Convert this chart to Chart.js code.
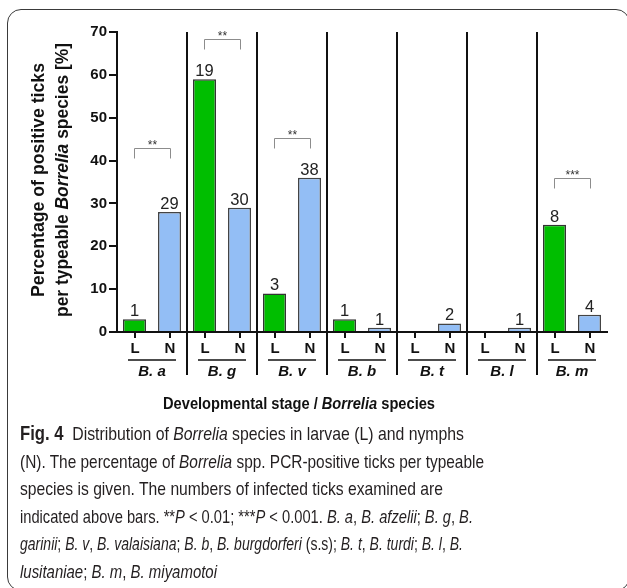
<!DOCTYPE html>
<html><head><meta charset="utf-8">
<script src="https://cdn.jsdelivr.net/npm/chart.js@4/dist/chart.umd.min.js"></script>
<style>
html,body{margin:0;padding:0;background:#fff;}
#wrap{position:relative;width:627px;height:588px;overflow:hidden;background:#fff;}
#frame{position:absolute;left:7px;top:9px;width:623px;height:582px;border:1.2px solid #3a3a3a;border-radius:14px;box-sizing:border-box;}
#cv{position:absolute;left:0;top:0;}
#caption{position:absolute;left:20px;top:420px;font-family:"Liberation Sans Narrow","Liberation Sans",Arial,sans-serif;font-size:18.5px;line-height:27.6px;color:#231f20;}
.ln{white-space:nowrap;transform-origin:0 50%;width:max-content;}
.ln b{font-weight:bold;font-size:19.5px;}
</style></head>
<body>
<div id="wrap">
<div id="frame"></div>
<canvas id="cv" width="627" height="588"></canvas>
<div id="caption">
<div class="ln" data-w="444"><b>Fig. 4</b>&nbsp; Distribution of <i>Borrelia</i> species in larvae (L) and nymphs</div>
<div class="ln" data-w="464">(N). The percentage of <i>Borrelia</i> spp. PCR-positive ticks per typeable</div>
<div class="ln" data-w="423">species is given. The numbers of infected ticks examined are</div>
<div class="ln" data-w="453">indicated above bars. **<i>P</i> &lt; 0.01; ***<i>P</i> &lt; 0.001. <i>B. a</i>, <i>B. afzelii</i>; <i>B. g</i>, <i>B.</i></div>
<div class="ln" data-w="443"><i>garinii</i>; <i>B. v</i>, <i>B. valaisiana</i>; <i>B. b</i>, <i>B. burgdorferi</i> (s.s); <i>B. t</i>, <i>B. turdi</i>; <i>B. l</i>, <i>B.</i></div>
<div class="ln" data-w="197"><i>lusitaniae</i>; <i>B. m</i>, <i>B. miyamotoi</i></div>
</div>
</div>
<script>
// ---- data ----
const species = ['B. a','B. g','B. v','B. b','B. t','B. l','B. m'];
const stages = ['L','N'];
const larvaeValues = [3, 59, 9, 3, 0, 0, 25];
const nymphValues = [28, 29, 36, 1, 2, 1, 4];
const larvaeCounts = ['1','19','3','1','','','8'];
const nymphCounts = ['29','30','38','1','2','1','4'];
const significance = ['**','**','**','','','','***'];
const bracketLevel = [42.9, 68.4, 45.2, null, null, null, 35.9];
const yTicks = [0,10,20,30,40,50,60,70];

// scale caption lines to reference widths
document.querySelectorAll('.ln').forEach(el=>{
  const w = el.getBoundingClientRect().width;
  const t = +el.dataset.w;
  el.style.transform = 'scaleX(' + (t/w) + ')';
});

const FONT = '"Liberation Sans", Arial, Helvetica, sans-serif';
Chart.defaults.font.family = FONT;

function seg(ctx, parts, cx, cy, target){
  ctx.save();
  ctx.textAlign = 'left';
  let total = 0;
  parts.forEach(p=>{ctx.font=p[1]; total += ctx.measureText(p[0]).width;});
  const k = target ? target/total : 1;
  ctx.translate(cx, cy); ctx.scale(k, 1);
  let x = -total/2;
  parts.forEach(p=>{ctx.font=p[1]; ctx.fillText(p[0], x, 0); x += ctx.measureText(p[0]).width;});
  ctx.restore();
}

const annot = {
  id:'annot',
  afterDatasetsDraw(chart){
    const {ctx, chartArea:ca, scales:{x, y}} = chart;
    const mL = chart.getDatasetMeta(0), mN = chart.getDatasetMeta(1);
    ctx.save();
    // group separators
    ctx.strokeStyle = '#111'; ctx.lineWidth = 2;
    for (let i = 0; i < species.length - 1; i++){
      const px = Math.round((x.getPixelForTick(i) + x.getPixelForTick(i+1))/2);
      ctx.beginPath(); ctx.moveTo(px, ca.top); ctx.lineTo(px, ca.bottom + 43); ctx.stroke();
    }
    // stage tick marks, labels, underline
    ctx.fillStyle = '#111';
    ctx.textAlign = 'center'; ctx.textBaseline = 'middle';
    for (let i = 0; i < species.length; i++){
      [mL.data[i], mN.data[i]].forEach((el, k)=>{
        const bx = Math.round(el.x);
        ctx.lineWidth = 2; ctx.strokeStyle = '#111';
        ctx.beginPath(); ctx.moveTo(bx, ca.bottom); ctx.lineTo(bx, ca.bottom + 6); ctx.stroke();
        ctx.font = 'bold 15px ' + FONT;
        ctx.fillText(stages[k], bx, ca.bottom + 17);
      });
      const gx = x.getPixelForTick(i);
      ctx.lineWidth = 1.6;
      ctx.beginPath(); ctx.moveTo(gx - 24, ca.bottom + 28); ctx.lineTo(gx + 24, ca.bottom + 28); ctx.stroke();
    }
    // counts above bars
    ctx.fillStyle = '#222'; ctx.textBaseline = 'alphabetic';
    ctx.font = '16.5px ' + FONT;
    for (let i = 0; i < species.length; i++){
      if (larvaeCounts[i]) ctx.fillText(larvaeCounts[i], mL.data[i].x, mL.data[i].y - 3);
      if (nymphCounts[i]) ctx.fillText(nymphCounts[i], mN.data[i].x, mN.data[i].y - 3);
    }
    // significance brackets
    for (let i = 0; i < species.length; i++){
      if (!significance[i]) continue;
      const x1 = Math.round(mL.data[i].x) - 0.5, x2 = Math.round(mN.data[i].x) + 0.5;
      const yt = Math.round(y.getPixelForValue(bracketLevel[i])) + 0.5;
      ctx.strokeStyle = '#8c8c8c'; ctx.lineWidth = 1;
      ctx.beginPath(); ctx.moveTo(x1, yt + 10); ctx.lineTo(x1, yt); ctx.lineTo(x2, yt); ctx.lineTo(x2, yt + 10); ctx.stroke();
      ctx.fillStyle = '#333'; ctx.font = '12px ' + FONT; ctx.textBaseline = 'middle';
      ctx.fillText(significance[i], (x1 + x2)/2, yt - 3);
    }
    // axis titles
    ctx.fillStyle = '#111'; ctx.textBaseline = 'middle';
    const B = 'bold 16px ' + FONT, BI = 'italic bold 16px ' + FONT;
    seg(ctx, [['Developmental stage / ', B], ['Borrelia', BI], [' species', B]], 299, 405, 272);
    const B2 = 'bold 17.5px ' + FONT, BI2 = 'italic bold 17.5px ' + FONT;
    ctx.save();
    ctx.translate(0, 180); ctx.rotate(-Math.PI/2);
    seg(ctx, [['Percentage of positive ticks', B2]], 0, 39, 234);
    seg(ctx, [['per typeable ', B2], ['Borrelia', BI2], [' species [%]', B2]], 0, 63, 274);
    ctx.restore();
    ctx.restore();
  }
};

new Chart(document.getElementById('cv'), {
  type: 'bar',
  data: {
    labels: species,
    datasets: [
      {label: 'L', data: larvaeValues, backgroundColor: '#00be00', borderColor: '#333', borderWidth: 1.5},
      {label: 'N', data: nymphValues, backgroundColor: '#93bef5', borderColor: '#444', borderWidth: 1.5}
    ]
  },
  options: {
    responsive: false, animation: false,
    layout: {padding: {left: 0, top: 32, right: 20, bottom: 206}},
    plugins: {legend: {display: false}, tooltip: {enabled: false}},
    datasets: {bar: {categoryPercentage: 1, barPercentage: 0.657}},
    scales: {
      x: {
        grid: {display: false, drawTicks: false},
        border: {display: true, color: '#111', width: 2},
        ticks: {display: true, padding: 31, color: '#111', font: {size: 15, weight: 'bold', style: 'italic'}},
        afterFit: s => { s.height = 50; }
      },
      y: {
        min: 0, max: 70,
        afterBuildTicks: s => { s.ticks = yTicks.map(v => ({value: v})); },
        grid: {drawOnChartArea: false, drawTicks: true, tickLength: 8, tickColor: '#111', lineWidth: 2},
        border: {display: true, color: '#111', width: 2},
        ticks: {padding: 2, color: '#111', font: {size: 15, weight: 'bold'}},
        afterFit: s => { s.width = 117; }
      }
    }
  },
  plugins: [annot]
});
</script>
</body></html>
